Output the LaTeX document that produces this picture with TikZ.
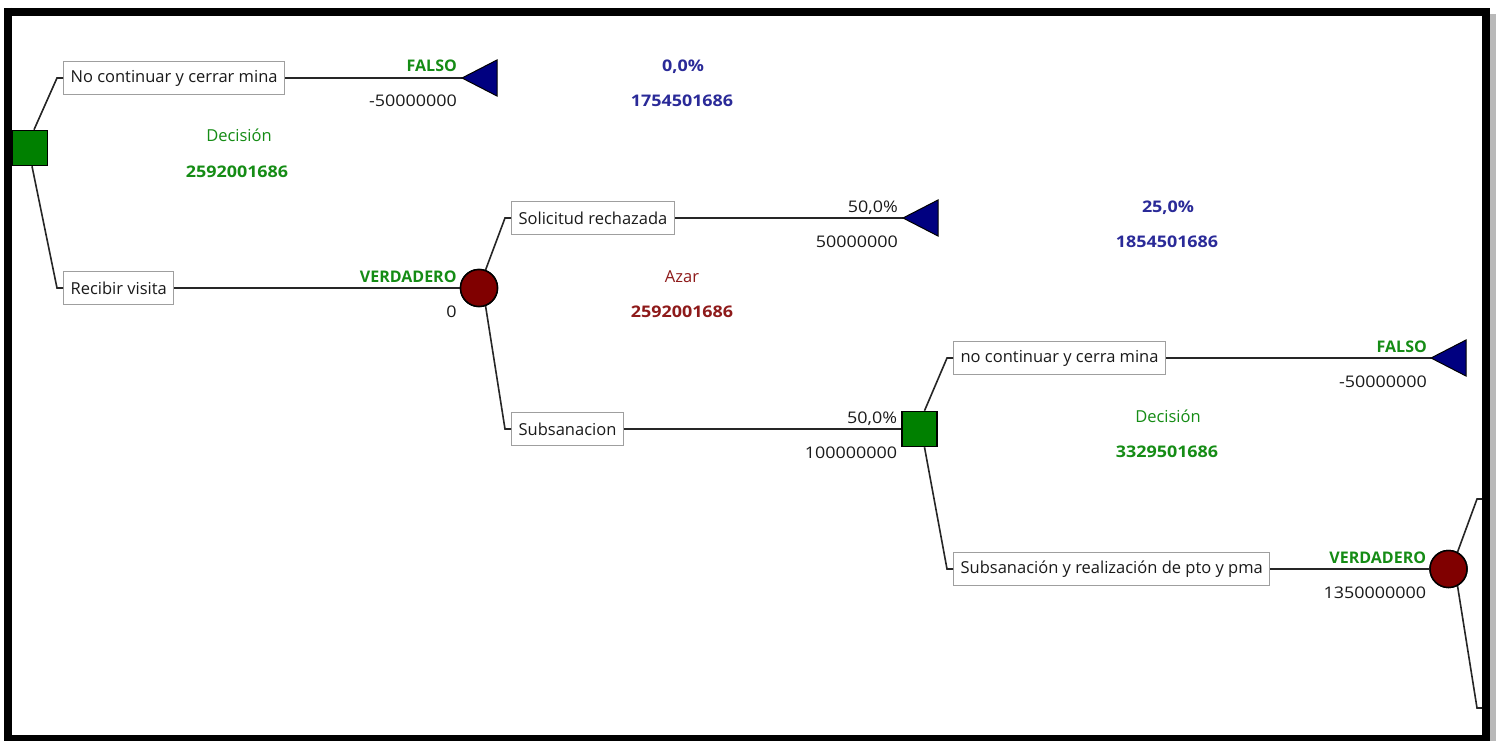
\documentclass[tikz,border=0pt]{standalone}
\usepackage{fontspec}
\setmainfont{Open Sans}
\newfontfamily\numfont[FakeStretch=1.12]{Open Sans}
\usetikzlibrary{calc}
\definecolor{dgreen}{HTML}{008000}
\definecolor{dred}{HTML}{800000}
\definecolor{navy}{HTML}{000080}
\definecolor{tgreen}{HTML}{158C15}
\definecolor{tblue}{HTML}{2A2A98}
\definecolor{tred}{HTML}{8E1A1A}
\definecolor{tdark}{HTML}{1A1A1A}
\begin{document}
\begin{tikzpicture}[x=1pt,y=-1pt,
  txt/.style={font=\fontsize{16.5}{19}\selectfont},
  box/.style={txt, draw=gray!75, line width=1.2pt, fill=white, text=tdark,
    minimum height=33, inner xsep=7, inner ysep=0, anchor=west},
  dec/.style={draw=black, line width=1.5pt, fill=dgreen, minimum size=35, inner sep=0},
  chance/.style={circle, draw=black, line width=1.5pt, fill=dred, minimum size=37, inner sep=0},
  term/.style={draw=black, line width=1pt, fill=navy},
  edge/.style={draw=black!85, line width=1.6pt},
  rlab/.style={anchor=base east, inner sep=0},
  clab/.style={anchor=base, inner sep=0},
  bword/.style={font=\fontsize{16}{19}\selectfont\bfseries},
  word/.style={font=\fontsize{16.5}{19}\selectfont},
  num/.style={font=\fontsize{16}{19}\selectfont\numfont},
  bnum/.style={font=\fontsize{16}{19}\selectfont\numfont\bfseries}]
\useasboundingbox (0,0) rectangle (1496,741);
\fill[white] (0,0) rectangle (1496,741);

% ---- nodes ----
\node[dec] (d1) at (30,148) {};
\node[box] (b1) at (63,78) {No continuar y cerrar mina};
\node[box] (b2) at (63,288) {Recibir visita};
\coordinate (t1) at (462,78);
\node[chance] (c1) at (479,288) {};
\node[box] (b3) at (511,218) {Solicitud rechazada};
\node[box] (b4) at (511,429) {Subsanacion};
\coordinate (t2) at (903,218);
\node[dec] (d2) at (919.5,429) {};
\node[box] (b5) at (953,358) {no continuar y cerra mina};
\node[box] (b6) at (953,569) {Subsanación y realización de pto y pma};
\coordinate (t3) at (1431,358);
\node[chance] (c2) at (1448.5,569) {};
\coordinate (e1) at (1486,499);
\coordinate (e2) at (1486,708);

% ---- connectors ----
\draw[edge] ($(d1.north)+(4,0)$) -- ($(b1.west)+(-6,0)$) -- (b1.west);
\draw[edge] ($(d1.south)+(2,0)$) -- ($(b2.west)+(-6,0)$) -- (b2.west);
\draw[edge] (b1.east) -- (t1);
\draw[edge] (b2.east) -- (c1.west);
\draw[edge] (c1.70) -- ($(b3.west)+(-6,0)$) -- (b3.west);
\draw[edge] (c1.-70) -- ($(b4.west)+(-6,0)$) -- (b4.west);
\draw[edge] (b3.east) -- (t2);
\draw[edge] (b4.east) -- (d2.west);
\draw[edge] ($(d2.north)+(5,0)$) -- ($(b5.west)+(-6,0)$) -- (b5.west);
\draw[edge] ($(d2.south)+(5,0)$) -- ($(b6.west)+(-6,0)$) -- (b6.west);
\draw[edge] (b5.east) -- (t3);
\draw[edge] (b6.east) -- (c2.west);
\draw[edge] (c2.62) -- ($(e1)+(-9,0)$) -- (e1);
\draw[edge] (c2.-62) -- ($(e2)+(-9,0)$) -- (e2);

% redraw shapes on top of connectors
\node[dec] at (d1) {};
\node[chance] at (c1) {};
\node[dec] at (d2) {};
\node[chance] at (c2) {};
\filldraw[term] (t1) -- ++(35,-18) -- ++(0,36) -- cycle;
\filldraw[term] (t2) -- ++(35,-18) -- ++(0,36) -- cycle;
\filldraw[term] (t3) -- ++(35,-18) -- ++(0,36) -- cycle;

% ---- labels on branches ----
\node[rlab, bword, text=tgreen] (l1) at ($(t1)+(-5,-6)$) {FALSO};
\node[rlab, num, text=tdark] (l2) at ($(t1)+(-5,29)$) {-50000000};
\node[rlab, bword, text=tgreen] (l3) at ($(c1.west)+(-3,-6)$) {VERDADERO};
\node[rlab, num, text=tdark] (l4) at ($(c1.west)+(-3,29)$) {0};
\node[rlab, num, text=tdark] (l5) at ($(t2)+(-5,-6)$) {50,0\%};
\node[rlab, num, text=tdark] (l6) at ($(t2)+(-5,29)$) {50000000};
\node[rlab, num, text=tdark] (l7) at ($(d2.west)+(-4,-6)$) {50,0\%};
\node[rlab, num, text=tdark] (l8) at ($(d2.west)+(-4,29)$) {100000000};
\node[rlab, bword, text=tgreen] (l9) at ($(t3)+(-4,-6)$) {FALSO};
\node[rlab, num, text=tdark] (l10) at ($(t3)+(-4,29)$) {-50000000};
\node[rlab, bword, text=tgreen] (l11) at ($(c2.west)+(-3,-6)$) {VERDADERO};
\node[rlab, num, text=tdark] (l12) at ($(c2.west)+(-3,29)$) {1350000000};

% ---- node summaries ----
\node[clab, word, text=tgreen] (s1) at (239,142) {Decisión};
\node[clab, bnum, text=tgreen] (s2) at (237,177) {2592001686};
\node[clab, bnum, text=tblue] (s3) at (683,72) {0,0\%};
\node[clab, bnum, text=tblue] (s4) at (682,107) {1754501686};
\node[clab, word, text=tred] (s5) at (682,282) {Azar};
\node[clab, bnum, text=tred] (s6) at (682,317) {2592001686};
\node[clab, bnum, text=tblue] (s7) at (1168,212) {25,0\%};
\node[clab, bnum, text=tblue] (s8) at (1167,247) {1854501686};
\node[clab, word, text=tgreen] (s9) at (1168,422) {Decisión};
\node[clab, bnum, text=tgreen] (s10) at (1167,457) {3329501686};

% ---- frame ----
\fill[gray!55] (1490,14) rectangle (1496,741);
\draw[black, line width=8pt] (8,12) -- (1486,12) -- (1486,741);
\draw[black, line width=8pt] (8,8) -- (8,739) -- (1490,739);
\end{tikzpicture}
\end{document}
